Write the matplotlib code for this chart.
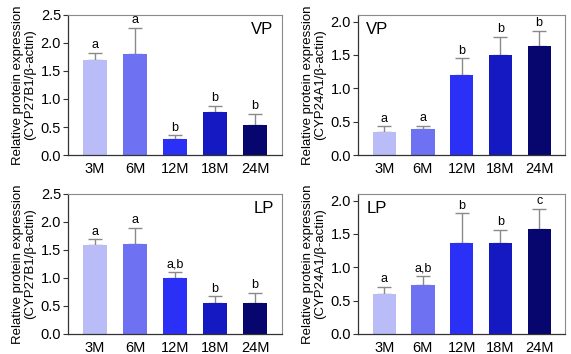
import numpy as np
import matplotlib.pyplot as plt

plt.rcParams['font.family'] = ['Liberation Sans', 'DejaVu Sans']

groups = ['3M', '6M', '12M', '18M', '24M']
colors = ['#b9bcf6', '#6e72f2', '#2b30f7', '#1519c2', '#06066e']

# CYP27B1, VP
vp27_mean = [1.69, 1.81, 0.29, 0.76, 0.54]
vp27_err = [0.13, 0.46, 0.06, 0.12, 0.20]
vp27_sig = ['a', 'a', 'b', 'b', 'b']

# CYP24A1, VP
vp24_mean = [0.35, 0.39, 1.20, 1.50, 1.64]
vp24_err = [0.08, 0.05, 0.25, 0.27, 0.22]
vp24_sig = ['a', 'a', 'b', 'b', 'b']

# CYP27B1, LP
lp27_mean = [1.59, 1.61, 1.00, 0.55, 0.56]
lp27_err = [0.10, 0.28, 0.11, 0.12, 0.17]
lp27_sig = ['a', 'a', 'a,b', 'b', 'b']

# CYP24A1, LP
lp24_mean = [0.60, 0.74, 1.37, 1.36, 1.57]
lp24_err = [0.11, 0.13, 0.44, 0.20, 0.31]
lp24_sig = ['a', 'a,b', 'b', 'b', 'c']


def panel(ax, mean, err, sig, label, ylab, ymax, yticks, label_right):
    x = np.arange(len(groups))
    ax.bar(x, mean, width=0.6, color=colors, zorder=2)
    ax.errorbar(x, mean, yerr=[np.zeros(len(mean)), err], fmt='none',
                ecolor='#8a8a8a', elinewidth=1.0, capsize=5, capthick=1.0, zorder=1)
    for xi, m, e, s in zip(x, mean, err, sig):
        ax.text(xi, m + e + ymax * 0.012, s, ha='center', va='bottom', fontsize=9)
    ax.set_xlim(-0.675, 4.675)
    ax.set_ylim(0, ymax)
    ax.set_yticks(yticks)
    ax.set_yticklabels([f'{t:.1f}' for t in yticks])
    ax.set_xticks(x)
    ax.set_xticklabels(groups)
    ax.tick_params(axis='x', length=0, labelsize=10.5, pad=5)
    ax.tick_params(axis='y', length=3.5, width=0.8, labelsize=10.5, pad=1.5, color='#333333')
    for sp in ['top', 'right']:
        ax.spines[sp].set_color('#8a8a8a')
        ax.spines[sp].set_linewidth(0.8)
    for sp in ['left', 'bottom']:
        ax.spines[sp].set_color('#333333')
        ax.spines[sp].set_linewidth(0.9)
    ax.set_ylabel('Relative protein expression\n' + ylab, fontsize=9.5, linespacing=1.05, labelpad=3)
    if label_right:
        ax.text(0.96, 0.95, label, transform=ax.transAxes, ha='right', va='top', fontsize=12)
    else:
        ax.text(0.04, 0.95, label, transform=ax.transAxes, ha='left', va='top', fontsize=12)


fig = plt.figure(figsize=(5.71, 3.54), dpi=100)
ax1 = fig.add_axes([0.119, 0.562, 0.375, 0.396])
ax2 = fig.add_axes([0.627, 0.562, 0.363, 0.396])
ax3 = fig.add_axes([0.119, 0.057, 0.375, 0.395])
ax4 = fig.add_axes([0.627, 0.057, 0.363, 0.395])

panel(ax1, vp27_mean, vp27_err, vp27_sig, 'VP', '(CYP27B1/β-actin)', 2.5,
      [0, 0.5, 1.0, 1.5, 2.0, 2.5], True)
panel(ax2, vp24_mean, vp24_err, vp24_sig, 'VP', '(CYP24A1/β-actin)', 2.1,
      [0, 0.5, 1.0, 1.5, 2.0], False)
panel(ax3, lp27_mean, lp27_err, lp27_sig, 'LP', '(CYP27B1/β-actin)', 2.5,
      [0, 0.5, 1.0, 1.5, 2.0, 2.5], True)
panel(ax4, lp24_mean, lp24_err, lp24_sig, 'LP', '(CYP24A1/β-actin)', 2.1,
      [0, 0.5, 1.0, 1.5, 2.0], False)

fig.savefig('out.png', dpi=100)
